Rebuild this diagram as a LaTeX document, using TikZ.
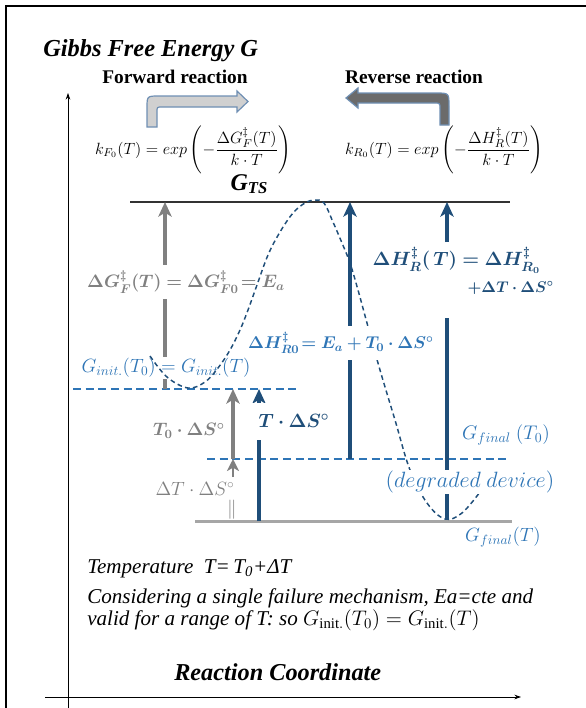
\documentclass[tikz,border=0pt]{standalone}
\usepackage{fix-cm}
\usepackage{fontspec}
\setmainfont{Liberation Serif}
\usepackage{amsmath}
\usepackage{bm}
\usetikzlibrary{arrows.meta}
\definecolor{lblblue}{HTML}{2E75B6}
\definecolor{darkblue}{HTML}{1F4E79}
\definecolor{midgray}{HTML}{808080}
\definecolor{levelgray}{HTML}{A6A6A6}
\definecolor{fwdfill}{HTML}{D0D0D0}
\definecolor{revfill}{HTML}{6B6B6B}
\definecolor{shapeedge}{HTML}{6F8FB3}

\begin{document}
\begin{tikzpicture}[x=0.75pt, y=-0.75pt,
    lbl/.style={inner sep=1pt, font=\fontsize{14.4}{16}\selectfont},
    smalllbl/.style={inner sep=1pt, font=\fontsize{14.4}{17}\selectfont},
    note/.style={anchor=base west, inner sep=0pt, font=\fontsize{15.8}{18}\selectfont\itshape},
    heading/.style={anchor=base, inner sep=0pt, font=\fontsize{14.5}{17}\selectfont\bfseries},
    grayarrow/.style={-{Stealth[length=11pt, width=10pt, inset=3pt]}, line width=3pt, draw=midgray},
    bluearrow/.style={-{Stealth[length=11pt, width=10pt, inset=3pt]}, line width=3pt, draw=darkblue},
    level/.style={line width=2pt, draw=lblblue, dash pattern=on 6pt off 3.5pt},
    pathcurve/.style={line width=1.1pt, draw=darkblue, dash pattern=on 3.5pt off 2.5pt}
]
    \useasboundingbox (0,0) rectangle (586,708);

    % frame and axes
    \draw[line width=1.5pt] (5.5,708) -- (5.5,6) -- (586,6);
    \coordinate (yaxis0) at (68,708);
    \coordinate (yaxis1) at (68,93);
    \coordinate (xaxis0) at (45,697);
    \coordinate (xaxis1) at (521,697);
    \draw[-{Stealth[length=5pt, width=3.5pt]}, line width=0.6pt] (yaxis0) -- (yaxis1);
    \draw[-{Stealth[length=5pt, width=3.5pt]}, line width=0.6pt] (xaxis0) -- (xaxis1);

    % titles
    \node[anchor=base west, inner sep=0pt, font=\fontsize{18.3}{20}\selectfont\bfseries\itshape] (title) at (43,56) {Gibbs Free Energy G};
    \node[heading] (fwd) at (175,83) {Forward reaction};
    \node[heading] (rev) at (414,83) {Reverse reaction};
    \node[anchor=base west, inner sep=0pt, font=\fontsize{18.2}{20}\selectfont\bfseries\itshape] (rc) at (174,680) {Reaction Coordinate};

    % bent arrows
    \filldraw[fill=fwdfill, draw=shapeedge, line width=0.9pt]
        (147,127) -- (147,108) .. controls (147,96) .. (159,96) -- (237,96) -- (237,91) -- (248,101.5)
        -- (237,112) -- (237,107) -- (162,107) .. controls (157,107) .. (157,112) -- (157,127) -- cycle;
    \filldraw[fill=revfill, draw=shapeedge, line width=0.9pt]
        (449,125) -- (449,106) .. controls (449,93) .. (436,93) -- (358,93) -- (358,88) -- (346,98)
        -- (358,108) -- (358,103) -- (434,103) .. controls (440,103) .. (440,109) -- (440,125) -- cycle;

    % rate constants
    \node[font=\fontsize{12.2}{14}\selectfont] (kf) at (193,150) {$k_{F_0}(T) = exp\left(-\dfrac{\Delta G_F^{\ddagger}(T)}{k\cdot T}\right)$};
    \node[font=\fontsize{12.2}{14}\selectfont] (kr) at (444,150) {$k_{R_0}(T) = exp\left(-\dfrac{\Delta H_R^{\ddagger}(T)}{k\cdot T}\right)$};
    \node[anchor=base, inner sep=0pt, font=\fontsize{18}{20}\selectfont\bfseries\itshape] (gts) at (249,190) {G\raisebox{-0.35ex}{\fontsize{12.5}{12}\selectfont TS}};

    % energy levels
    \coordinate (tsL) at (130,202);
    \coordinate (tsR) at (510,202);
    \coordinate (giL) at (73,389);
    \coordinate (giR) at (297,389);
    \coordinate (gfL) at (207,459);
    \coordinate (gfR) at (510,459);
    \coordinate (gtL) at (195,521.5);
    \coordinate (gtR) at (512,521.5);
    \draw[line width=1.1pt, draw=black!80] (tsL) -- (tsR);
    \draw[level] (giL) -- (giR);
    \draw[level] (gfL) -- (gfR);
    \draw[line width=2.2pt, draw=levelgray] (gtL) -- (gtR);

    % forward barrier
    \coordinate (fb0) at (165,389);
    \coordinate (fb1) at (165,202);
    \draw[grayarrow] (fb0) -- (fb1);
    \node[lbl, fill=white, text=midgray, inner ysep=4pt, font=\fontsize{13.5}{15}\selectfont] (dgf) at (186,282) {$\bm{\Delta G_F^{\ddagger}(T) = \Delta G_{F0}^{\ddagger}\!= E_a}$};
    \node[smalllbl, fill=white, text=lblblue] (ginit) at (166,368) {$G_{init.}(T_0) = G_{init.}(T)$};

    % reaction path
    \draw[pathcurve] plot[smooth, tension=0.6] coordinates {(150,356) (167,377) (188,388) (205,382) (218,368)
        (230,350) (240,330) (248,310) (257,285) (268,255) (280,232) (293,213) (305,203) (315,200)
        (324,203) (333,222) (342,243) (350,263) (358,290) (367,323) (380,370) (395,420) (410,470)
        (427,503) (445,519) (462,513) (480,492)};

    % entropy terms
    \coordinate (ts0) at (233,459);
    \coordinate (ts1) at (233,389);
    \draw[grayarrow] (ts0) -- (ts1);
    \node[lbl, text=midgray, font=\fontsize{13.5}{15}\selectfont] (t0ds) at (189,431) {$\bm{T_0\cdot\Delta S^\circ}$};
    \coordinate (dt0) at (233,477);
    \coordinate (dt1) at (233,459);
    \draw[-{Stealth[length=9pt, width=9pt, inset=2.5pt]}, line width=2pt, draw=midgray] (dt0) -- (dt1);
    \node[smalllbl, text=midgray] (dtds) at (195,489) {$\Delta T\cdot\Delta S^\circ$};
    \node[smalllbl, text=midgray] (bars) at (232,510) {$\|$};
    \coordinate (tds0) at (259,521);
    \coordinate (tds1) at (259,389);
    \draw[bluearrow] (tds0) -- (tds1);
    \node[lbl, fill=white, text=darkblue, minimum height=37*0.75pt, inner xsep=6pt] (tds) at (294,421) {$\bm{T\cdot\Delta S^\circ}$};

    % reverse barriers
    \coordinate (rb0) at (350,459);
    \coordinate (rb1) at (350,202);
    \draw[bluearrow] (rb0) -- (rb1);
    \node[lbl, fill=white, text=lblblue, inner ysep=5pt, font=\fontsize{12.8}{15}\selectfont] (hr0) at (341,343) {$\bm{\Delta H_{R0}^{\ddagger}\!= E_a + T_0\cdot\Delta S^\circ}$};
    \coordinate (rt0) at (447,519);
    \coordinate (rt1) at (447,318);
    \coordinate (rt2) at (447,242);
    \coordinate (rt3) at (447,202);
    \draw[line width=3pt, draw=darkblue] (rt0) -- (rt1);
    \draw[bluearrow] (rt2) -- (rt3);
    \node[lbl, anchor=west, text=darkblue] (hrt) at (371,260) {$\bm{\Delta H_R^{\ddagger}(\,T) = \Delta H_{R_0}^{\ddagger}}$};
    \node[lbl, anchor=west, text=darkblue, font=\fontsize{11.6}{14}\selectfont] (hrt2) at (466,288) {$\bm{+\Delta T\cdot\Delta S^\circ}$};

    % final states
    \node[smalllbl, text=lblblue, font=\fontsize{14.8}{17}\selectfont] (gfin0) at (506,435) {$G_{final}\ (T_0)$};
    \node[smalllbl, fill=white, text=lblblue, font=\fontsize{16.6}{19}\selectfont] (degr) at (470,482) {$(degraded\ device)$};
    \node[smalllbl, text=lblblue] (gfin) at (503,537) {$G_{final}(T)$};

    % notes
    \node[note] (temp) at (87,573) {Temperature\ \ T=\,T\textsubscript{0}+ΔT};
    \node[note] (cons) at (87,603) {Considering a single failure mechanism, Ea=cte and};
    \node[note] (valid) at (87,625) {valid for a range of T: so \upshape$G_{\mathrm{init.}}(T_0) = G_{\mathrm{init.}}(T)$};
\end{tikzpicture}
\end{document}
